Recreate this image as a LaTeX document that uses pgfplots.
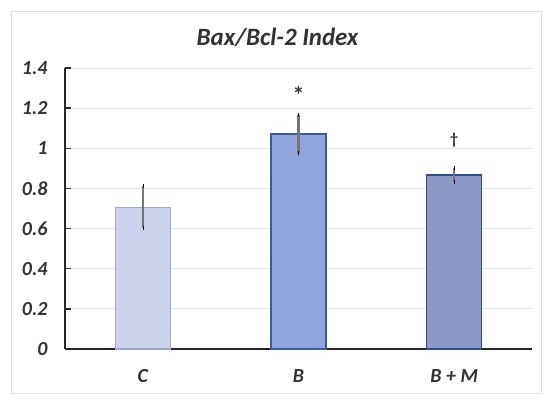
\documentclass[border=0pt]{standalone}
\usepackage{pgfplots}
\pgfplotsset{compat=1.18}
\usepackage{fontspec}
\setmainfont{Carlito}
\definecolor{cfill}{HTML}{CCD3EC}
\definecolor{cedge}{HTML}{9DA9D3}
\definecolor{bfill}{HTML}{91A6DD}
\definecolor{bedge}{HTML}{3A5CA8}
\definecolor{mfill}{HTML}{8D99C7}
\definecolor{medge}{HTML}{2E4C8E}
\definecolor{errc}{HTML}{757575}
\begin{document}
\begin{tikzpicture}[x=1bp,y=1bp]
\useasboundingbox (-65bp,-57bp) rectangle (485bp,349bp);
\draw[color=black!12, line width=1bp] (-53bp,-44bp) rectangle (476bp,337bp);
\begin{axis}[
  at={(0,0)}, anchor=south west,
  scale only axis, width=467bp, height=281bp,
  xmin=-0.5, xmax=2.5, ymin=0, ymax=1.4,
  xtick={0,1,2}, xticklabels={C,B,B + M},
  ytick={0,0.2,...,1.4},
  yticklabels={0,0.2,0.4,0.6,0.8,1,1.2,1.4},
  axis x line*=bottom, axis y line*=left,
  x axis line style={line width=2bp, color=black!85, -},
  y axis line style={line width=1.4bp, color=black!85, -},
  major x tick style={draw=none},
  ytick style={line width=1.4bp, color=black!85},
  tick align=inside, major tick length=6bp,
  ymajorgrids, grid style={color=black!10, line width=0.8bp},
  ticklabel style={font=\fontsize{20}{22}\selectfont\bfseries\itshape, color=black!80},
  yticklabel style={xshift=-14bp},
  xticklabel style={yshift=-11bp},
  title={Bax/Bcl-2 Index},
  title style={font=\fontsize{25}{28}\selectfont\bfseries\itshape, color=black!80, xshift=-21bp, yshift=12bp},
  ybar, bar width=55bp, bar shift=0pt,
  clip=false,
  error bars/error bar style={draw=errc, line width=2.4bp},
  error bars/error mark options={draw=none},
]
\addplot[fill=cfill, draw=cedge, line width=1.1bp,
  error bars/.cd, y dir=both, y explicit]
  coordinates {(0,0.706) +- (0,0.105)};
\addplot[fill=bfill, draw=bedge, line width=1.3bp,
  error bars/.cd, y dir=both, y explicit]
  coordinates {(1,1.071) +- (0,0.093)};
\addplot[fill=mfill, draw=medge, line width=1.3bp,
  error bars/.cd, y dir=both, y explicit]
  coordinates {(2,0.867) +- (0,0.033)};
\node[font=\fontsize{24}{26}\selectfont\bfseries, color=black!80] at (axis cs:1,1.265) {*};
\node[font=\fontsize{16}{18}\selectfont\bfseries, color=black!80] at (axis cs:2,1.04) {†};
\end{axis}
\end{tikzpicture}
\end{document}
